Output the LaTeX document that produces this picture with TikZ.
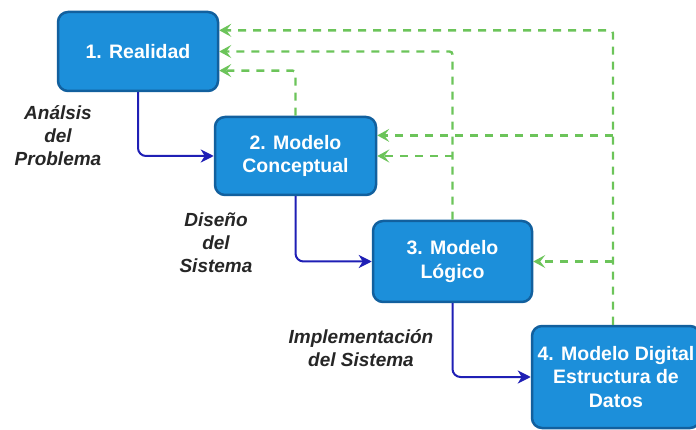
\documentclass[tikz,border=0pt]{standalone}
\usepackage{fontspec}
\setmainfont{Liberation Sans}
\usetikzlibrary{arrows.meta,calc}
\definecolor{boxfill}{HTML}{1C8FDA}
\definecolor{boxline}{HTML}{12609E}
\definecolor{gline}{HTML}{6CC45A}
\definecolor{bline}{HTML}{1F1FB5}
\begin{document}
\begin{tikzpicture}[x=1pt,y=-1pt,
 box/.style={draw=boxline, line width=2.5pt, fill=boxfill, rounded corners=10pt, text=white, font=\bfseries\fontsize{19.5}{23.5}\selectfont, align=center, inner sep=0pt},
 lbl/.style={font=\bfseries\itshape\fontsize{19}{23}\selectfont, align=center, text=black!85},
 feed/.style={draw=gline, line width=2.4pt, dash pattern=on 8pt off 7pt, rounded corners=3pt, -{Stealth[length=12pt,width=13pt,inset=5pt]}},
 flow/.style={draw=bline, line width=2pt, rounded corners=8pt, -{Stealth[length=13pt,width=13pt,inset=4pt]}}]
\useasboundingbox (0,0) rectangle (696,430);
\node[box, minimum width=160pt, minimum height=79pt] (b1) at (138,51.5) {1. Realidad};
\node[box, minimum width=161pt, minimum height=78pt] (b2) at (295.5,156) {2. Modelo\\Conceptual};
\node[box, minimum width=159pt, minimum height=81pt] (b3) at (452.5,261.5) {3. Modelo\\Lógico};
\node[box, minimum width=168pt, minimum height=102pt] (b4) at (616,377) {4. Modelo Digital\\Estructura de\\Datos};
\coordinate (r1a) at ($(b1.north east)!0.24!(b1.south east)$);
\coordinate (r1c) at ($(b1.north east)!0.734!(b1.south east)$);
\coordinate (r2a) at ($(b2.north east)!0.244!(b2.south east)$);
\coordinate (gx) at (613,0);
\draw[feed] (b4.north -| gx) |- (r1a);
\draw[feed] (gx |- r2a) -- (r2a);
\draw[feed] (gx |- b3.east) -- (b3.east);
\draw[feed] (b3.north) |- (b1.east);
\draw[feed] (b3.north |- b2.east) -- (b2.east);
\draw[feed] (b2.north) |- (r1c);
\draw[flow] (b1.south) |- (b2.west);
\draw[flow] (b2.south) |- (b3.west);
\draw[flow] (b3.south) |- (b4.west);
\node[lbl] (l1) at (58,136) {Análsis\\del\\Problema};
\node[lbl] (l2) at (216,243) {Diseño\\del\\Sistema};
\node[lbl] (l3) at (361,348) {Implementación\\del Sistema};
\end{tikzpicture}
\end{document}
